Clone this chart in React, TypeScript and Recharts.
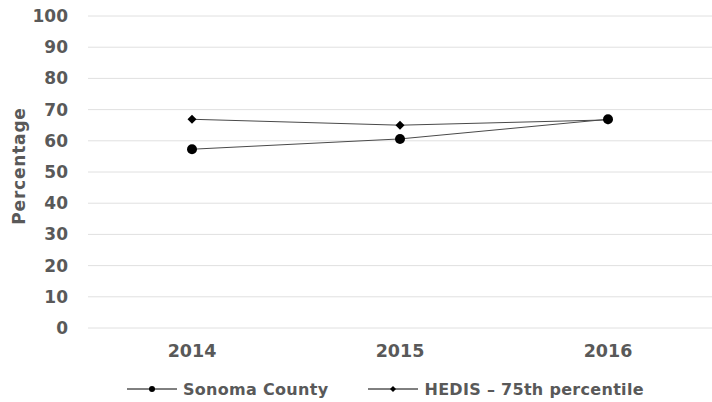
import { LineChart, Line, XAxis, YAxis, CartesianGrid, Legend } from "recharts";

const years = ["2014", "2015", "2016"];
const sonomaCounty = [57.3, 60.6, 66.9];
const hedis75th = [66.9, 65.0, 66.7];
const yTicks = [0, 10, 20, 30, 40, 50, 60, 70, 80, 90, 100];

const data = years.map((year, i) => ({
  year,
  sonoma: sonomaCounty[i],
  hedis: hedis75th[i],
}));

const FONT = "'DejaVu Sans', Verdana, sans-serif";
const TEXT = "#595959";
const LINE = "#4a4a4a";

function Diamond(props: any) {
  const { cx, cy, size = 4.5 } = props;
  if (cx == null || cy == null) return null;
  return (
    <path
      d={`M${cx},${cy - size} L${cx + size},${cy} L${cx},${cy + size} L${cx - size},${cy} Z`}
      fill="#000"
    />
  );
}

function LegendContent() {
  const items = [
    { label: "Sonoma County", marker: "dot" },
    { label: "HEDIS \u2013 75th percentile", marker: "diamond" },
  ];
  return (
    <div style={{ display: "flex", justifyContent: "flex-start", alignItems: "center", paddingLeft: 127, height: 26, fontFamily: FONT, fontWeight: "bold", fontSize: 16, color: TEXT, letterSpacing: 0.3 }}>
      {items.map((it, i) => (
        <div key={it.label} style={{ display: "flex", alignItems: "center", marginLeft: i ? 40 : 0 }}>
          <svg width={50} height={10} style={{ marginRight: 6 }}>
            <line x1={0} y1={5} x2={50} y2={5} stroke="#000" strokeWidth={1} />
            {it.marker === "dot" ? (
              <circle cx={25} cy={5} r={3} fill="#000" />
            ) : (
              <path d="M25,2 L28,5 L25,8 L22,5 Z" fill="#000" />
            )}
          </svg>
          <span>{it.label}</span>
        </div>
      ))}
    </div>
  );
}

function YLabel() {
  const x = 19;
  const y = 166;
  return (
    <text
      x={x}
      y={y}
      transform={`rotate(-90, ${x}, ${y})`}
      textAnchor="middle"
      dominantBaseline="central"
      fontFamily={FONT}
      fontWeight="bold"
      fontSize={17}
      letterSpacing={0.8}
      fill={TEXT}
    >
      Percentage
    </text>
  );
}

export default function App() {
  const xTick = { fontFamily: FONT, fontWeight: "bold", fontSize: 17.5, fill: TEXT };
  const yTick = { fontFamily: FONT, fontWeight: "bold", fontSize: 17, fill: TEXT };
  return (
    <div style={{ position: "absolute", left: 0, top: 0, width: 712, height: 402, background: "#fff" }}>
      <LineChart width={712} height={402} data={data} margin={{ top: 16, right: 0, bottom: 0, left: 0 }}>
        <CartesianGrid vertical={false} stroke="#e0e0e0" />
        <XAxis
          dataKey="year"
          axisLine={false}
          tickLine={false}
          tickSize={0}
          tickMargin={17}
          height={48}
          padding={{ left: 104, right: 104 }}
          tick={xTick}
        />
        <YAxis
          domain={[0, 100]}
          ticks={yTicks}
          interval={0}
          axisLine={false}
          tickLine={false}
          tickSize={0}
          tickMargin={20}
          width={88}
          tick={yTick}
          label={<YLabel />}
        />
        <Legend verticalAlign="bottom" align="center" content={<LegendContent />} />
        <Line
          dataKey="sonoma"
          name="Sonoma County"
          stroke={LINE}
          strokeWidth={1}
          dot={{ r: 5, fill: "#000", stroke: "#000", strokeWidth: 0 }}
          isAnimationActive={false}
        />
        <Line
          dataKey="hedis"
          name="HEDIS – 75th percentile"
          stroke={LINE}
          strokeWidth={1}
          dot={<Diamond />}
          isAnimationActive={false}
        />
      </LineChart>
    </div>
  );
}
